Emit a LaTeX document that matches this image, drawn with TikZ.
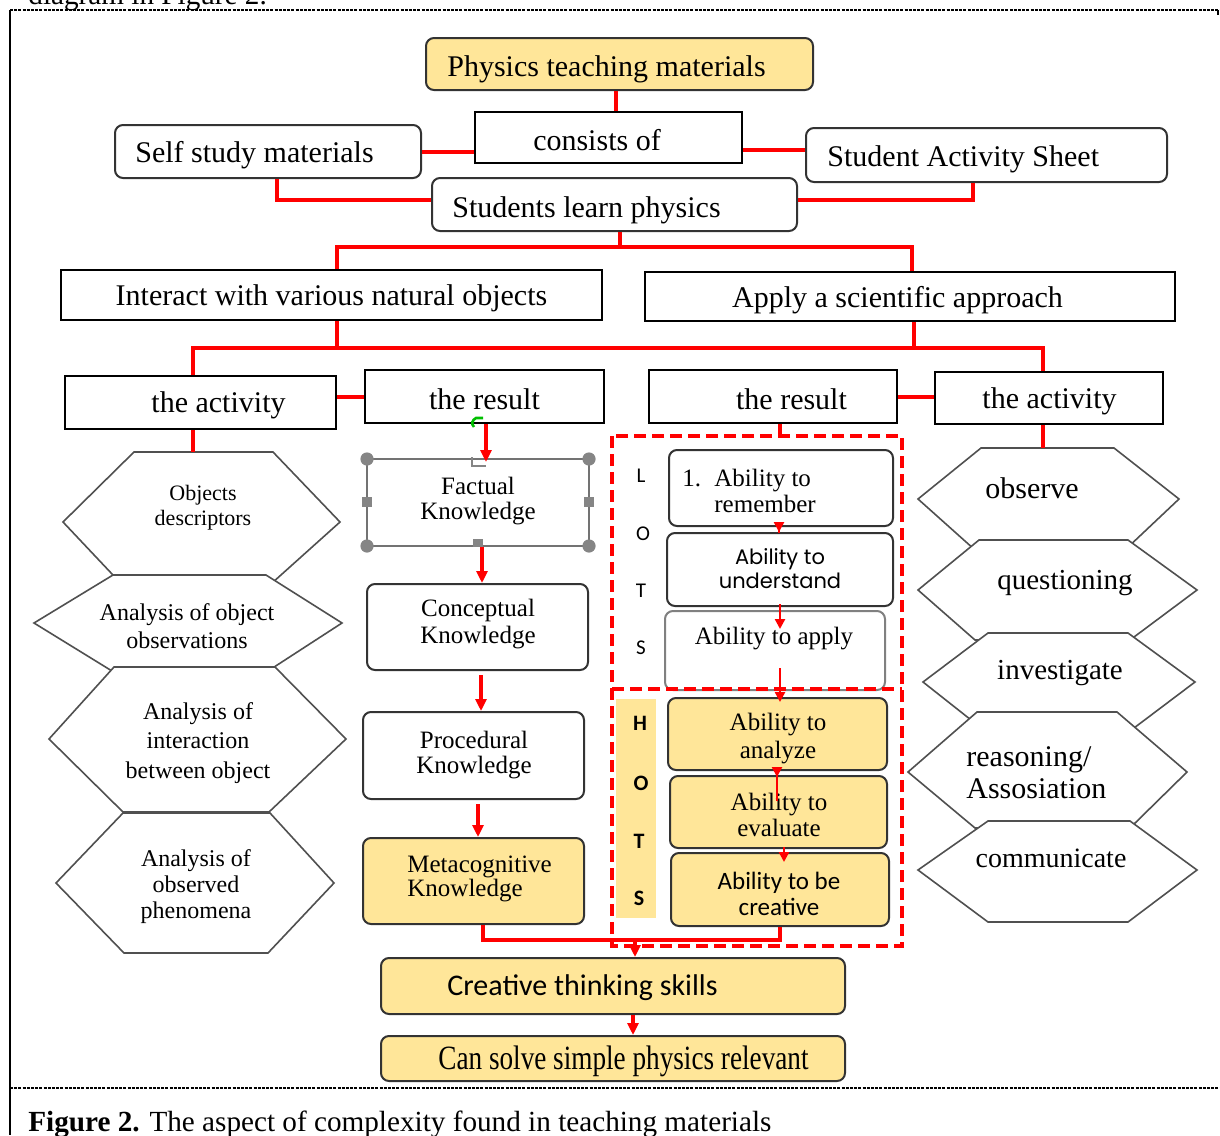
\documentclass[tikz,border=0pt]{standalone}
\usepackage{fontspec}
\setmainfont{Liberation Serif}
\newfontfamily\calib{Carlito}
\newfontfamily\gothic{Poppins}
\usetikzlibrary{fit,arrows.meta}
\definecolor{boxyellow}{HTML}{FFE699}
\definecolor{hexgray}{HTML}{505050}
\definecolor{handlegray}{HTML}{858585}
\newcommand\myfs[2]{\fontsize{#1}{#2}\selectfont}
\tikzset{
  sbox/.style={draw=black, line width=1pt, inner sep=0pt, fill=white},
  rbox/.style={draw=black!80, line width=1pt, rounded corners=4pt, inner sep=0pt, fill=white},
  ybox/.style={rbox, fill=boxyellow},
  txt/.style={inner sep=0pt, font=\myfs{15}{18}},
  rl/.style={draw=red, line width=1.6pt},
  ra/.style={rl, -{Triangle[length=6pt,width=5.5pt]}},
  ras/.style={draw=red, line width=1.2pt, -{Triangle[length=5pt,width=5pt]}},
  rdash/.style={draw=red, line width=1.6pt, dash pattern=on 6pt off 3pt},
  hexa/.style={draw=hexgray, line width=0.8pt, fill=white},
  frame/.style={line width=0.6pt, dash pattern=on 1.5pt off 0.6pt},
}
\begin{document}
\begin{tikzpicture}[x=0.5pt,y=-0.5pt]
\useasboundingbox (0,0) rectangle (1220,1135);
\fill[white] (0,0) rectangle (1220,1135);

% frame
\draw[frame] (10,10) -- (1220,10);
\draw[line width=1pt] (10,10) -- (10,1135);
\draw[frame] (10,1088) -- (1220,1088);
\draw[line width=0.8pt] (1218,10) -- (1218,15);
\node[txt,anchor=base west,font=\myfs{14.6}{17}] (toptext) at (28,4) {diagram in Figure 2.};
\node[txt,anchor=base west,font=\myfs{14.6}{17}] (caption) at (28,1131) {\textbf{Figure 2.} The aspect of complexity found in teaching materials};

% hexagons left
\draw[hexa] (134,452)--(273,452)--(340,522)--(262,592)--(129,592)--(63,522)--cycle;
\draw[hexa] (113,575)--(266,575)--(342,623)--(268,671)--(112,671)--(34,623)--cycle;
\draw[hexa] (114,667)--(275,667)--(346,739)--(269,812)--(123,812)--(49,739)--cycle;
\draw[hexa] (123,813)--(270,813)--(334,883)--(268,953)--(124,953)--(56,883)--cycle;
% hexagons right
\draw[hexa] (981,448)--(1114,448)--(1179,499)--(1125,550)--(975,550)--(918,499)--cycle;
\draw[hexa] (979,540)--(1128,540)--(1197,590)--(1130,640)--(975,640)--(918,590)--cycle;
\draw[hexa] (988,633)--(1128,633)--(1195,682)--(1130,731)--(985,731)--(923,682)--cycle;
\draw[hexa] (977,712)--(1117,712)--(1187,772)--(1130,828)--(975,828)--(908,772)--cycle;
\draw[hexa] (988,821)--(1130,821)--(1197,870)--(1128,922)--(988,922)--(918,870)--cycle;

% HOTS strip
\fill[boxyellow] (616,699) rectangle (656,918);

% boxes
\node[ybox,fit={(426,38)(813,90)}] (bPhys) {};
\node[sbox,fit={(475,112)(742,163)}] (bCons) {};
\node[rbox,fit={(115,125)(421,178)}] (bSelf) {};
\node[rbox,fit={(806,128)(1167,182)}] (bSAS) {};
\node[rbox,fit={(432,178)(797,231)}] (bSLP) {};
\node[sbox,fit={(61,270)(602,320)}] (bInter) {};
\node[sbox,fit={(645,272)(1175,321)}] (bApply) {};
\node[sbox,fit={(65,376)(336,429)}] (bAct1) {};
\node[sbox,fit={(365,370)(604,423)}] (bRes1) {};
\node[sbox,fit={(649,370)(897,423)}] (bRes2) {};
\node[sbox,fit={(935,372)(1163,424)}] (bAct2) {};
\node[sbox,draw=black!55,fit={(367,459)(589,546)}] (bFact) {};
\node[rbox,fit={(367,584)(588,670)}] (bConc) {};
\node[rbox,fit={(363,712)(584,799)}] (bProc) {};
\node[ybox,fit={(363,838)(584,924)}] (bMeta) {};
\node[rbox,fit={(669,450)(893,526)}] (bRem) {};
\node[rbox,fit={(667,533)(893,606)}] (bUnd) {};
\node[rbox,draw=black!50,fit={(665,611)(885,690)}] (bApp) {};
\node[ybox,fit={(668,698)(887,770)}] (bAna) {};
\node[ybox,fit={(670,776)(887,848)}] (bEva) {};
\node[ybox,fit={(671,853)(889,926)}] (bCre) {};
\node[ybox,fit={(381,958)(845,1014)}] (bCTS) {};
\node[ybox,fit={(381,1036)(845,1081)}] (bCSS) {};

% selection handles on Factual Knowledge
\foreach \p in {(367,459),(589,459),(367,546),(589,546)} \fill[handlegray] \p circle (3.3pt);
\fill[handlegray] (362,497) rectangle (372,507);
\fill[handlegray] (584,497) rectangle (594,507);
\fill[handlegray] (473,539) rectangle (483,547);
\draw[handlegray, line width=1pt] (472,457) -- (472,466) -- (486,466);
\draw[green!75!black, line width=1.3pt] (483,418) -- (476,418) .. controls (472,420) and (471,424) .. (474,427);

% texts
\node[txt] (tPhys) at (606.5,69) {Physics teaching materials};
\node[txt] (tCons) at (597,140) {consists of};
\node[txt,anchor=west] (tSelf) at (135,155) {Self study materials};
\node[txt,anchor=west] (tSAS) at (827,159) {Student Activity Sheet};
\node[txt,anchor=west] (tSLP) at (452,210) {Students learn physics};
\node[txt] (tInter) at (331.5,298) {Interact with various natural objects};
\node[txt] (tApply) at (897.5,300) {Apply a scientific approach};
\node[txt] (tAct1) at (218.5,405) {the activity};
\node[txt] (tRes1) at (484.5,399) {the result};
\node[txt] (tRes2) at (791.5,399) {the result};
\node[txt] (tAct2) at (1049.5,401) {the activity};

\node[txt,font=\myfs{11}{12.5},align=center] (tH1) at (203,507.5) {Objects\\descriptors};
\node[txt,font=\myfs{12}{14},align=center] (tH2) at (187,626) {Analysis of object\\observations};
\node[txt,font=\myfs{12}{14.75},align=center] (tH3) at (198,743) {Analysis of\\interaction\\between object};
\node[txt,font=\myfs{12}{13},align=center] (tH4) at (196,887) {Analysis of\\observed\\phenomena};
\node[txt] (tR1) at (1032,488) {observe};
\node[txt,font=\myfs{14.5}{17}] (tR2) at (1065,583) {questioning};
\node[txt,font=\myfs{14.5}{17}] (tR3) at (1060,673) {investigate};
\node[txt,align=left,anchor=west,font=\myfs{15}{16}] (tR4) at (966,773) {reasoning/\\Assosiation};
\node[txt,font=\myfs{14}{17}] (tR5) at (1051,858) {communicate};

\node[txt,font=\myfs{12.5}{12.5},align=center] (tFact) at (478,501.5) {Factual\\Knowledge};
\node[txt,font=\myfs{12.5}{13.5},align=center] (tConc) at (478,624.5) {Conceptual\\Knowledge};
\node[txt,font=\myfs{12.5}{12.5},align=center] (tProc) at (474,755.5) {Procedural\\Knowledge};
\node[txt,font=\myfs{12.5}{12},align=left,anchor=west] (tMeta) at (407,879) {Metacognitive\\Knowledge};

\node[txt,font=\myfs{12.5}{13},align=left,anchor=west] (tRem) at (682,491) {\makebox[16pt][l]{1.}Ability to\\\hspace*{16pt}remember};
\node[txt,font=\gothic\myfs{10.5}{12},align=center] (tUnd) at (780,569) {Ability to\\understand};
\node[txt,font=\myfs{12.5}{14}] (tApp) at (774,639) {Ability to apply};
\node[txt,font=\myfs{12.5}{14},align=center] (tAna) at (778,739) {Ability to\\analyze};
\node[txt,font=\myfs{12.5}{13},align=center] (tEva) at (779,815) {Ability to\\evaluate};
\node[txt,font=\calib\myfs{12.5}{13},align=center] (tCre) at (779,894) {Ability to be\\creative};

\node[txt,font=\calib\myfs{10.5}{12}] (lL) at (641,476) {L};
\node[txt,font=\calib\myfs{10.5}{12}] (lO) at (643,534) {O};
\node[txt,font=\calib\myfs{10.5}{12}] (lT) at (641,591) {T};
\node[txt,font=\calib\myfs{10.5}{12}] (lS) at (641,648) {S};
\node[txt,font=\calib\bfseries\myfs{11}{12}] (hH) at (640,723) {H};
\node[txt,font=\calib\bfseries\myfs{11}{12}] (hO) at (641,783) {O};
\node[txt,font=\calib\bfseries\myfs{11}{12}] (hT) at (639,841) {T};
\node[txt,font=\calib\bfseries\myfs{11}{12}] (hS) at (639,898) {S};

\node[txt,font=\calib\myfs{15}{18},anchor=west] (tCTS) at (447,988) {Creative thinking skills};
\node[txt,anchor=west] (tCSS) at (438,1061) {\scalebox{0.8}[1]{\myfs{17}{20}Can solve simple physics relevant}};

% connectors
\draw[rl] (616,0 |- bPhys.south) -- (616,0 |- bCons.north);
\draw[rl] (bCons.west |- 0,152) -- (bSelf.east |- 0,152);
\draw[rl] (bCons.east |- 0,150) -- (bSAS.west |- 0,150);
\draw[rl] (277,0 |- bSelf.south) |- (bSLP.west |- 0,200);
\draw[rl] (973,0 |- bSAS.south) |- (bSLP.east |- 0,200);
\coordinate (jA) at (620,247);
\draw[rl] (620,0 |- bSLP.south) -- (jA);
\draw[rl] (337,0 |- bInter.north) |- (jA) -| (912,0 |- bApply.north);
\coordinate (jB) at (337,348);
\coordinate (jC) at (914,348);
\draw[rl] (337,0 |- bInter.south) -- (jB);
\draw[rl] (914,0 |- bApply.south) -- (jC);
\draw[rl] (193,0 |- bAct1.north) |- (jB) -| (1043,0 |- bAct2.north);
\draw[rl] (bAct1.east |- 0,397) -- (bRes1.west |- 0,397);
\draw[rl] (bRes2.east |- 0,397) -- (bAct2.west |- 0,397);
\coordinate (h1top) at (193,452);
\coordinate (r1top) at (1043,448);
\draw[rl] (193,0 |- bAct1.south) -- (h1top);
\draw[rl] (1043,0 |- bAct2.south) -- (r1top);
\draw[ra, shorten >=-2pt] (486,0 |- bRes1.south) -- (486,0 |- bFact.north);
\coordinate (dtop) at (780,436);
\draw[rl] (780,0 |- bRes2.south) -- (dtop);
\draw[ra] (482,0 |- bFact.south) -- (482,0 |- bConc.north);
\draw[ra, shorten <=2pt] (481,0 |- bConc.south) -- (481,0 |- bProc.north);
\draw[ra, shorten <=2pt] (478,0 |- bProc.south) -- (478,0 |- bMeta.north);

\draw[ras, shorten <=-3pt] (779,0 |- bRem.south) -- (779,0 |- bUnd.north);
\draw[ras, shorten <=-1.5pt, shorten >=-9.5pt] (780,0 |- bUnd.south) -- (780,0 |- bApp.north);
\draw[ras, shorten <=-11.5pt, shorten >=-2.5pt] (780,0 |- bApp.south) -- (780,0 |- bAna.north);
\draw[ras, shorten <=-15pt, shorten >=-1pt] (777,0 |- bAna.south) -- (777,0 |- bEva.north);
\draw[ras, shorten <=-1pt, shorten >=-5pt] (784,0 |- bEva.south) -- (784,0 |- bCre.north);

\coordinate (jD) at (635,940);
\draw[rl] (483,0 |- bMeta.south) |- (jD) -| (780,0 |- bCre.south);
\draw[ra] (jD) -- (635,0 |- bCTS.north);
\draw[ra] (633,0 |- bCTS.south) -- (633,0 |- bCSS.north);

% dashed LOTS/HOTS frame
\draw[rdash] (612,436) rectangle (902,946);
\draw[rdash] (612,689) -- (902,689);
\end{tikzpicture}
\end{document}
